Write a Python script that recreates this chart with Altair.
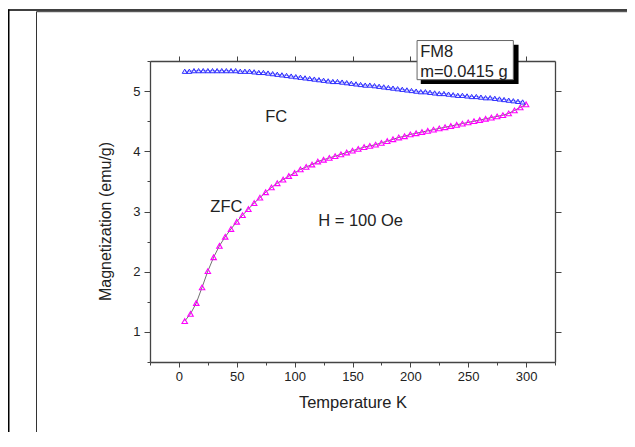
import altair as alt
import pandas as pd

# ---------------- data ----------------
fc_T = [5, 9, 13, 17, 21, 25, 29, 33, 37, 41, 45, 49, 53, 57,
        61, 65, 69, 73, 77, 81, 85, 89, 93, 97, 101, 105, 109, 113, 117, 121,
        125, 129, 133, 137, 141, 145, 149, 153, 157, 161, 165, 169, 173, 177,
        181, 185, 189, 193, 197, 201, 205, 209, 213, 217, 221, 225, 229, 233,
        237, 241, 245, 249, 253, 257, 261, 265, 269, 273, 277, 281, 285, 289,
        293, 297]
fc_M = [5.33, 5.33, 5.34, 5.34, 5.34, 5.34, 5.34, 5.34, 5.34, 5.34, 5.34, 5.34, 5.33, 5.33,
        5.33, 5.32, 5.31, 5.31, 5.30, 5.29, 5.28, 5.27, 5.26, 5.25, 5.24, 5.23, 5.22, 5.21, 5.20, 5.19,
        5.18, 5.17, 5.16, 5.16, 5.15, 5.14, 5.13, 5.12, 5.11, 5.10, 5.10, 5.09, 5.08, 5.07,
        5.06, 5.05, 5.04, 5.03, 5.02, 5.01, 5.00, 4.99, 4.99, 4.98, 4.97, 4.96, 4.96, 4.95,
        4.94, 4.93, 4.93, 4.92, 4.91, 4.91, 4.90, 4.89, 4.89, 4.88, 4.87, 4.86, 4.85, 4.84,
        4.83, 4.82]

zfc_T = [5, 10, 15, 20, 25, 30, 35, 40, 45, 50, 55, 60, 65, 70, 75, 80, 85, 90, 95, 100,
         105, 110, 115, 120, 125, 130, 135, 140, 145, 150, 155, 160, 165, 170, 175, 180,
         185, 190, 195, 200, 205, 210, 215, 220, 225, 230, 235, 240, 245, 250, 255, 260,
         265, 270, 275, 280, 285, 290, 295, 300]
zfc_M = [1.18, 1.30, 1.48, 1.74, 2.01, 2.24, 2.43, 2.58, 2.71, 2.83,
         2.94, 3.04, 3.14, 3.23, 3.32, 3.40, 3.47, 3.53, 3.59, 3.64,
         3.70, 3.74, 3.78, 3.83, 3.86, 3.89, 3.92, 3.95, 3.98, 4.01,
         4.04, 4.07, 4.09, 4.11, 4.14, 4.17, 4.20, 4.23, 4.25, 4.28,
         4.30, 4.32, 4.34, 4.36, 4.38, 4.40, 4.42, 4.44, 4.46, 4.48,
         4.50, 4.52, 4.54, 4.56, 4.58, 4.60, 4.63, 4.68, 4.73, 4.78]

x_domain = [-25, 325]
y_domain = [0.5, 5.5]
x_major = [0, 50, 100, 150, 200, 250, 300]
x_minor = [-25, 25, 75, 125, 175, 225, 275, 325]
y_major = [1, 2, 3, 4, 5]
y_minor = [0.5, 1.5, 2.5, 3.5, 4.5, 5.5]

note_text = ["FC", "ZFC", "H = 100 Oe"]
note_T = [84, 41, 157]
note_M = [4.57, 3.07, 2.84]

box_lines = ["FM8", "m=0.0415 g"]
box_line_T = [208.5, 208.5]
box_line_M = [5.65, 5.31]
box_T, box_T2, box_M, box_M2 = 205.8, 289.0, 5.84, 5.19
shadow_T, shadow_T2, shadow_M, shadow_M2 = 209.0, 293.5, 5.77, 5.12

# ---------------- chart ----------------
FONT = "Liberation Sans"
AX = "#444444"
TXT = "#222222"
W, H = 405, 301

xs = alt.Scale(domain=x_domain, nice=False, zero=False)
ys = alt.Scale(domain=y_domain, nice=False, zero=False)

fc = pd.DataFrame({"T": fc_T, "M": fc_M})
zfc = pd.DataFrame({"T": zfc_T, "M": zfc_M})
notes = pd.DataFrame({"T": note_T, "M": note_M, "label": note_text})
boxtxt = pd.DataFrame({"T": box_line_T, "M": box_line_M, "label": box_lines})
boxdf = pd.DataFrame({"T": [box_T], "T2": [box_T2], "M": [box_M], "M2": [box_M2]})
shadowdf = pd.DataFrame({"T": [shadow_T], "T2": [shadow_T2], "M": [shadow_M], "M2": [shadow_M2]})
one = pd.DataFrame({"k": [0]})


def ax(**kw):
    base = dict(grid=False, tickColor=AX, domainColor=AX, tickWidth=1, domainWidth=1.3,
                labelFont=FONT, titleFont=FONT, labelColor=TXT, titleColor=TXT,
                titleFontWeight="normal", labelFontSize=13)
    base.update(kw)
    return alt.Axis(**base)


def axis_layer(xaxis=None, yaxis=None):
    return alt.Chart(fc).mark_point(opacity=0).encode(
        x=alt.X("T:Q", scale=xs, axis=xaxis),
        y=alt.Y("M:Q", scale=ys, axis=yaxis),
    )


x_bottom = axis_layer(xaxis=ax(orient="bottom", values=x_major, tickSize=5, labelPadding=3,
                               format="d", labelFlush=False, labelOverlap=False,
                               title="Temperature K", titleFontSize=16.5,
                               titleY=40, titleBaseline="middle"))
x_bottom_minor = axis_layer(xaxis=ax(orient="bottom", values=x_minor, tickSize=3,
                                     labels=False, domain=False, title=None))
x_top = axis_layer(xaxis=ax(orient="top", values=x_major, tickSize=5, labels=False, title=None))
y_left = axis_layer(yaxis=ax(orient="left", values=y_major, tickSize=6, labelPadding=4,
                             format="d", labelFlush=False, labelOverlap=False,
                             title="Magnetization (emu/g)", titleFontSize=16,
                             titleX=-45, titleY=160, titleBaseline="middle", titleAngle=270))
y_left_minor = axis_layer(yaxis=ax(orient="left", values=y_minor, tickSize=3,
                                   labels=False, domain=False, title=None))
y_right = axis_layer(yaxis=ax(orient="right", values=y_major, tickSize=6, labels=False, title=None))

X = alt.X("T:Q", scale=xs, axis=None)
Y = alt.Y("M:Q", scale=ys, axis=None)

zfc_line = alt.Chart(zfc).mark_line(color="#333333", strokeWidth=0.7).encode(x=X, y=Y)
fc_line = alt.Chart(fc).mark_line(color="#6a6aff", strokeWidth=0.8).encode(x=X, y=Y)
zfc_pts = alt.Chart(zfc).mark_point(shape="triangle-up", filled=False, size=30,
                                    strokeWidth=1.1, color="#ff00ff", opacity=1).encode(x=X, y=Y)
fc_pts = alt.Chart(fc).mark_point(shape="triangle-up", filled=False, size=24,
                                  strokeWidth=1, color="#2a2aff", opacity=1).encode(x=X, y=Y)

note_layer = alt.Chart(notes).mark_text(font=FONT, fontSize=16.5, color=TXT,
                                        align="center", baseline="middle").encode(
    x=X, y=Y, text="label:N")

shadow_layer = alt.Chart(shadowdf).mark_rect(color="black").encode(
    x=X, x2="T2:Q", y=Y, y2="M2:Q")
box_layer = alt.Chart(boxdf).mark_rect(fill="white", stroke="#666666", strokeWidth=1).encode(
    x=X, x2="T2:Q", y=Y, y2="M2:Q")
box_text_layer = alt.Chart(boxtxt).mark_text(font=FONT, fontSize=16.5, color=TXT,
                                             align="left", baseline="middle").encode(
    x=X, y=Y, text="label:N")

# page frame (outer thick + inner thin border lines)
frame = [
    alt.Chart(one).mark_rule(color="black", strokeWidth=2).encode(
        x=alt.value(-141.5), y=alt.value(-51.5), y2=alt.value(420)),
    alt.Chart(one).mark_rule(color="black", strokeWidth=1.6).encode(
        x=alt.value(-142.5), x2=alt.value(500), y=alt.value(-51)),
    alt.Chart(one).mark_rule(color="#333333", strokeWidth=1).encode(
        x=alt.value(-113.5), y=alt.value(-49.3), y2=alt.value(420)),
    alt.Chart(one).mark_rule(color="#333333", strokeWidth=1).encode(
        x=alt.value(-113.5), x2=alt.value(500), y=alt.value(-49.3)),
]

chart = alt.layer(
    *frame,
    x_bottom, x_bottom_minor, x_top, y_left, y_left_minor, y_right,
    zfc_line, fc_line, zfc_pts, fc_pts, note_layer,
    shadow_layer, box_layer, box_text_layer,
).resolve_axis(x="independent", y="independent").properties(
    width=W, height=H,
    padding={"left": 142, "top": 53, "right": 72, "bottom": 70},
    autosize=alt.AutoSizeParams(type="none"),
    background="white",
).configure_view(stroke=None).configure(font=FONT)

chart.save("out.html", embed_options={"renderer": "svg", "actions": False})
